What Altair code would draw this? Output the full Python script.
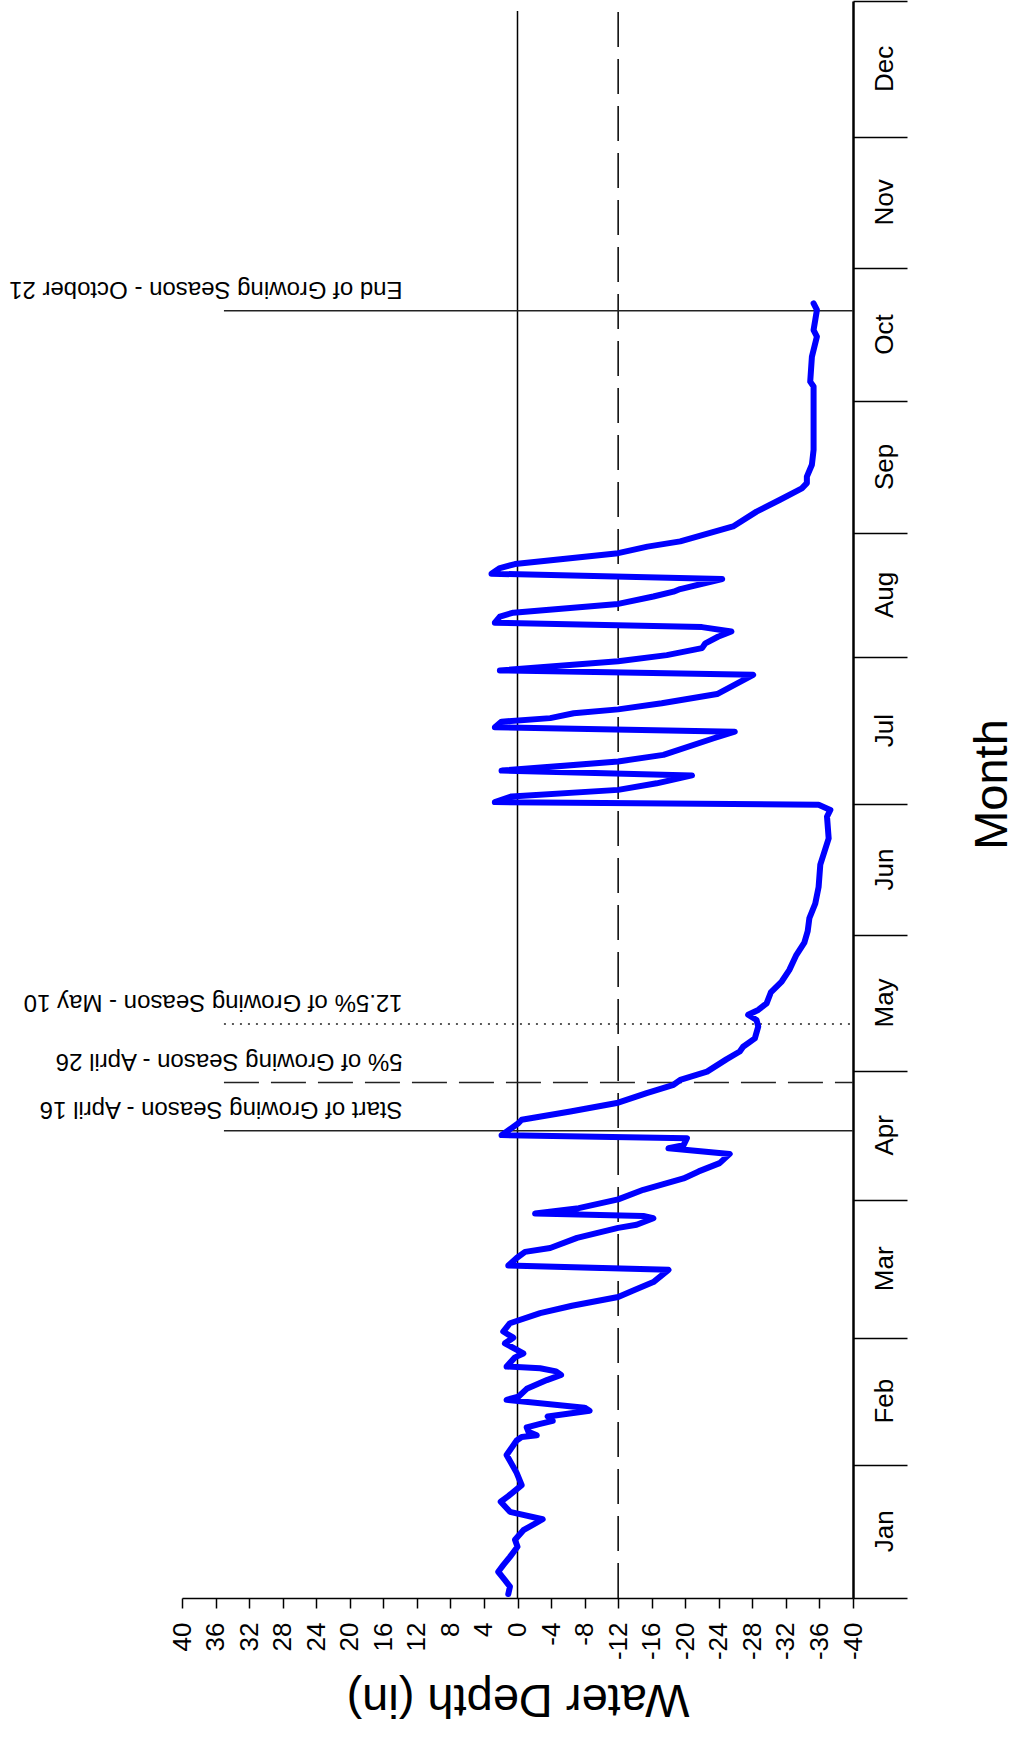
import altair as alt
import pandas as pd

FONT = "Liberation Sans"

# Water level trace: day of year and depth in inches (positive = above ground)
days = [
    0.9, 2.6, 4.1, 6.0, 7.5, 9.4, 11.7, 13.3, 15.5, 18.0, 19.7, 22.0, 23.3, 25.8,
    28.6, 32.7, 36.0, 36.8, 37.2, 38.0, 39.0, 39.8, 40.5, 41.5, 42.8, 43.5, 45.3,
    46.0, 47.8, 49.8, 51.0, 51.8, 52.5, 52.9, 55.0, 55.9, 58.2, 59.5, 60.9, 62.8,
    65.1, 66.8, 68.8, 70.3, 72.2, 75.0,
    76.0, 77.7, 79.1, 80.0, 82.3, 84.6, 85.3, 86.8, 87.3, 87.9, 89.1, 91.1, 93.3,
    95.9, 97.5, 99.4, 101.5, 102.8, 103.5, 105.1, 105.8, 108.5, 109.3, 111.2,
    113.2, 115.4, 117.3, 118.4, 120.3, 123.1, 124.9, 126.0, 127.9, 130.6, 132.1,
    133.3, 134.4, 135.9, 138.4, 140.9, 143.5, 146.8, 149.8, 152.4, 155.4, 158.7,
    162.5, 167.6, 173.6, 178.6, 180.1, 181.3,
    181.9, 183.2, 184.7, 186.2, 188.0, 189.1, 191.2, 192.7, 196.5, 198.0, 199.0,
    200.3, 201.1, 202.2, 203.1, 204.5, 206.6, 211.0, 212.0, 214.1, 215.5, 217.1,
    218.2, 219.7, 220.9, 221.9, 222.9, 224.3, 225.2, 227.2, 228.9, 230.0, 230.6,
    232.9, 234.1, 235.4, 236.3, 238.8, 240.3, 241.5, 244.9, 248.3, 251.0, 253.6,
    254.8, 256.3, 259.0, 262.4, 270.0, 276.9, 278.0, 283.7, 288.3, 289.8, 292.1,
    294.4, 295.9,
]
depth = [
    1.1, 0.9, 1.5, 2.3, 1.7, 0.9, 0.0, 0.3, -0.7, -3.0, 0.9, 2.0, 1.1, -0.5,
    0.1, 1.3, 0.1, -0.5, -2.3, -1.3, -1.1, -2.7, -4.2, -3.6, -8.6, -8.0, 1.3,
    -0.1, -1.1, -3.5, -5.2, -4.6, -2.7, 1.3, 0.3, -0.7, 1.5, 0.5, 1.7, 0.9,
    -2.7, -6.5, -12.0, -13.8, -16.2, -18.0,
    1.1, 0.1, -0.9, -3.9, -7.1, -12.0, -14.2, -16.2, -15.0, -2.1, -7.3, -12.0, -15.0,
    -19.8, -21.6, -24.1, -25.3, -18.0, -19.8, -20.2, 1.9, -0.1, -0.5, -6.3,
    -12.0, -15.4, -18.6, -19.4, -22.6, -24.9, -26.5, -26.9, -28.3, -28.7, -28.5,
    -27.5, -28.7, -29.7, -30.2, -31.5, -32.4, -33.2, -34.2, -34.6, -34.8, -35.5,
    -35.9, -36.1, -37.1, -36.9, -37.3, -35.9,
    2.7, 0.7, -12.0, -16.6, -20.8, 1.9, -12.0, -17.4, -23.4, -25.9, 2.7,
    1.9, -3.9, -6.7, -12.0, -17.2, -23.8, -28.1, 2.1, -12.0, -17.8, -22.0,
    -22.4, -23.9, -25.5, -22.0, 2.7, 2.1, 0.5, -12.0, -16.2, -18.6, -19.4,
    -24.4, 3.1, 2.1, 0.3, -12.0, -15.5, -19.4, -25.7, -28.5, -31.3, -33.9,
    -34.5, -34.5, -35.1, -35.3, -35.3, -35.3, -34.9, -35.1, -35.7, -35.3, -35.5,
    -35.7, -35.3,
]

# Depth axis ticks
depth_ticks = list(range(-40, 41, 4))

# Month boundaries (day of year) and month names
month_bounds = [0, 30.5, 59.5, 91, 120.5, 151.5, 181.5, 215, 243.5, 273.5, 304, 334, 365]
month_names = ["Jan", "Feb", "Mar", "Apr", "May", "Jun",
               "Jul", "Aug", "Sep", "Oct", "Nov", "Dec"]

# Growing season markers
ann_days = [106.8, 117.8, 131.2, 294.2]
ann_labels = [
    "Start of Growing Season - April 16",
    "5% of Growing Season - April 26",
    "12.5% of Growing Season - May 10",
    "End of Growing Season - October 21",
]
ann_styles = ["solid", "dashed", "dotted", "solid"]

# Reference depths: ground surface and 12 inches below
ref_depths = [0, -12]
ref_styles = ["solid", "dashed"]

series_df = pd.DataFrame({"i": range(len(days)), "day": days, "depth": depth})
ann_df = pd.DataFrame({"day": ann_days, "label": ann_labels, "style": ann_styles})
ref_df = pd.DataFrame({"depth": ref_depths, "style": ref_styles})
month_df = pd.DataFrame({
    "mid": [(a + b) / 2 for a, b in zip(month_bounds[:-1], month_bounds[1:])],
    "month": month_names,
})

x_scale = alt.Scale(domain=[-40, 40], reverse=True, nice=False, zero=False)
y_scale = alt.Scale(domain=[0, 365], nice=False, zero=False)
dash_scale = alt.Scale(domain=["solid", "dashed", "dotted"],
                       range=[[1, 0], [35, 12], [2, 6]])

x_axis = alt.Axis(
    values=depth_ticks, grid=False,
    tickSize=10, tickWidth=1.5, tickColor="black",
    domainColor="black", domainWidth=1.5,
    labelAngle=270, labelAlign="right", labelBaseline="middle",
    labelFont=FONT, labelFontSize=26, labelColor="black", labelPadding=14,
    labelOverlap=False, labelFlush=False,
    labelExpr="datum.value < 0 ? '-' + abs(datum.value) : '' + datum.value",
    title="Water Depth (in)", titleFont=FONT, titleFontSize=47,
    titleFontWeight="normal", titleColor="black", titleAngle=180,
    titleAlign="center", titleBaseline="middle", titleX=335.5, titleY=100,
)
y_axis = alt.Axis(
    orient="right", values=month_bounds, grid=False, labels=False,
    tickSize=54, tickWidth=1.5, tickColor="black",
    domainColor="black", domainWidth=2.5,
    title="Month", titleFont=FONT, titleFontSize=47, titleFontWeight="normal",
    titleColor="black", titleAngle=270, titleAlign="center",
    titleBaseline="middle", titleX=139, titleY=783,
)

refs = alt.Chart(ref_df).mark_rule(color="black", strokeWidth=1.5).encode(
    x=alt.X("depth:Q", scale=x_scale, axis=x_axis),
    y=alt.YDatum(0, scale=y_scale, axis=y_axis),
    y2=alt.Y2Datum(362.7),
    strokeDash=alt.StrokeDash("style:N", scale=dash_scale, legend=None),
)

ann_rules = alt.Chart(ann_df).mark_rule(color="#222222", strokeWidth=1.5).encode(
    x=alt.XDatum(35, scale=x_scale, axis=x_axis),
    x2=alt.X2Datum(-40),
    y=alt.Y("day:Q", scale=y_scale, axis=y_axis),
    strokeDash=alt.StrokeDash("style:N", scale=dash_scale, legend=None),
)

ann_text = alt.Chart(ann_df).mark_text(
    angle=180, align="left", baseline="alphabetic", dy=29,
    font=FONT, fontSize=24, color="black",
).encode(
    x=alt.XDatum(13.7, scale=x_scale, axis=x_axis),
    y=alt.Y("day:Q", scale=y_scale, axis=y_axis),
    text="label:N",
)

month_text = alt.Chart(month_df).mark_text(
    angle=270, align="center", baseline="middle",
    font=FONT, fontSize=26, color="black",
).encode(
    x=alt.value(703),
    y=alt.Y("mid:Q", scale=y_scale, axis=y_axis),
    text="month:N",
)

trace = alt.Chart(series_df).mark_line(
    color="#0000ff", strokeWidth=6, strokeJoin="round", strokeCap="round",
).encode(
    x=alt.X("depth:Q", scale=x_scale, axis=x_axis),
    y=alt.Y("day:Q", scale=y_scale, axis=y_axis),
    order="i:Q",
)

chart = alt.layer(refs, ann_rules, ann_text, month_text, trace).properties(
    width=671, height=1597,
    padding={"left": 182, "top": 1, "right": 165, "bottom": 141},
    autosize=alt.AutoSizeParams(type="none"),
    background="white",
).configure_view(stroke=None)

chart.save("out.html", embed_options={"renderer": "svg", "actions": False})
